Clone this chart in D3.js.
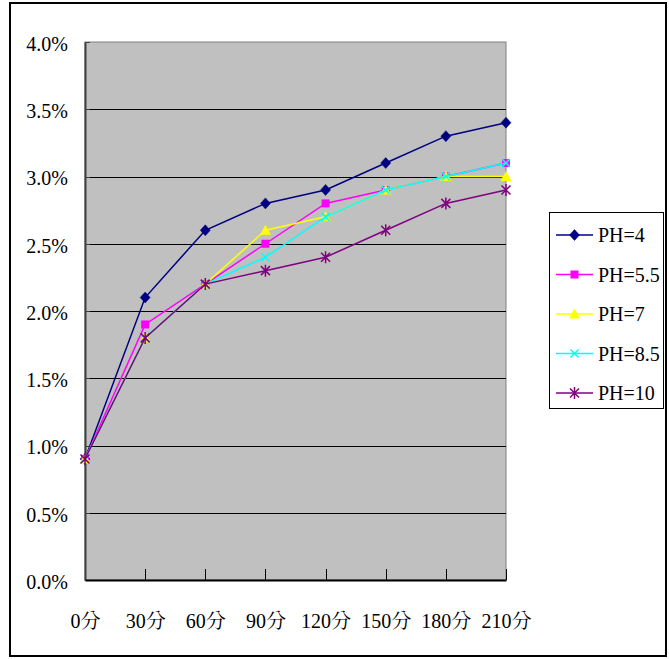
<!DOCTYPE html>
<html>
<head>
<meta charset="utf-8">
<script src="https://cdn.jsdelivr.net/npm/d3@7"></script>
<style>
  html, body { margin: 0; padding: 0; background: #fff; }
  svg { display: block; }
</style>
</head>
<body>
<svg id="chart" width="669" height="659"></svg>
<script>
// Time points (minutes) along the x axis
const categories = ["0分", "30分", "60分", "90分", "120分", "150分", "180分", "210分"];

// Values (%) for each pH level
const ph4   = [0.9, 2.1, 2.6, 2.8, 2.9, 3.1, 3.3, 3.4];
const ph55  = [0.9, 1.9, 2.2, 2.5, 2.8, 2.9, 3.0, 3.1];
const ph7   = [0.9, 1.8, 2.2, 2.6, 2.7, 2.9, 3.0, 3.0];
const ph85  = [0.9, 1.8, 2.2, 2.4, 2.7, 2.9, 3.0, 3.1];
const ph10  = [0.9, 1.8, 2.2, 2.3, 2.4, 2.6, 2.8, 2.9];

const seriesNames = ["PH=4", "PH=5.5", "PH=7", "PH=8.5", "PH=10"];
const yTicks = [0, 0.5, 1.0, 1.5, 2.0, 2.5, 3.0, 3.5, 4.0];

const FONT = "'Liberation Serif', 'Times New Roman', Times, 'Noto Serif CJK TC', 'Noto Sans CJK TC', serif";

const series = [
  { name: seriesNames[0], values: ph4,  color: "#000080", marker: "diamond" },
  { name: seriesNames[1], values: ph55, color: "#FF00FF", marker: "square" },
  { name: seriesNames[2], values: ph7,  color: "#FFFF00", marker: "triangle" },
  { name: seriesNames[3], values: ph85, color: "#00FFFF", marker: "cross" },
  { name: seriesNames[4], values: ph10, color: "#800080", marker: "star" }
];

const svg = d3.select("#chart");

// Outer frame
svg.append("rect")
  .attr("x", 10).attr("y", 3).attr("width", 656).attr("height", 653)
  .attr("fill", "#fff").attr("stroke", "#000").attr("stroke-width", 2);

const plot = { left: 85, right: 506, top: 42, bottom: 580 };

const x = d3.scalePoint().domain(categories).range([plot.left, plot.right]).padding(0);
const y = d3.scaleLinear().domain([0, 4]).range([plot.bottom, plot.top]);

// Plot background
svg.append("rect")
  .attr("x", plot.left).attr("y", plot.top)
  .attr("width", plot.right - plot.left).attr("height", plot.bottom - plot.top)
  .attr("fill", "#C0C0C0").attr("stroke", "#808080").attr("stroke-width", 1);

// Horizontal gridlines
svg.append("g")
  .selectAll("line")
  .data(yTicks.filter(d => d > 0 && d < 4))
  .join("line")
  .attr("x1", plot.left).attr("x2", plot.right)
  .attr("y1", d => Math.round(y(d)) + 0.5).attr("y2", d => Math.round(y(d)) + 0.5)
  .attr("stroke", "#000").attr("stroke-width", 1);

// Y axis
const yAxis = d3.axisLeft(y).tickValues(yTicks).tickFormat(d => d.toFixed(1) + "%").tickSize(0).tickPadding(17);
const gy = svg.append("g").attr("transform", `translate(${plot.left},0)`).call(yAxis)
  .attr("font-family", null).attr("font-size", null);
gy.select(".domain").attr("stroke", "#404040").attr("stroke-width", 2);
gy.selectAll("text").style("font-family", FONT).style("font-size", "20px").attr("fill", "#000")
  .attr("dy", "0.42em");

// Small inward tick marks on the y axis
svg.append("g").selectAll("line").data(yTicks).join("line")
  .attr("x1", plot.left).attr("x2", plot.left + 5)
  .attr("y1", d => Math.round(y(d)) + 0.5).attr("y2", d => Math.round(y(d)) + 0.5)
  .attr("stroke", "#404040").attr("stroke-width", 1);

// X axis
const xAxis = d3.axisBottom(x).tickSize(0).tickPadding(34);
const gx = svg.append("g").attr("transform", `translate(0,${plot.bottom})`).call(xAxis)
  .attr("font-family", null).attr("font-size", null);
gx.select(".domain").attr("stroke", "#000").attr("stroke-width", 2);
gx.selectAll("text").style("font-family", FONT).style("font-size", "20px").attr("fill", "#000");

// Inward tick marks on the x axis
svg.append("g").selectAll("line").data(categories.slice(1)).join("line")
  .attr("x1", d => Math.round(x(d)) + 0.5).attr("x2", d => Math.round(x(d)) + 0.5)
  .attr("y1", plot.bottom).attr("y2", plot.bottom - 11)
  .attr("stroke", "#000").attr("stroke-width", 1);

// Marker drawing
function drawMarker(g, type, color, cx, cy) {
  if (type === "diamond") {
    g.append("path").attr("d", `M${cx},${cy - 5.5}L${cx + 5},${cy}L${cx},${cy + 5.5}L${cx - 5},${cy}Z`)
      .attr("fill", color).attr("stroke", color).attr("stroke-width", 0.5);
  } else if (type === "square") {
    g.append("rect").attr("x", cx - 4).attr("y", cy - 4).attr("width", 8).attr("height", 8)
      .attr("fill", color);
  } else if (type === "triangle") {
    g.append("path").attr("d", `M${cx},${cy - 5.5}L${cx + 5.5},${cy + 4.5}L${cx - 5.5},${cy + 4.5}Z`)
      .attr("fill", color);
  } else if (type === "cross") {
    g.append("path").attr("d", `M${cx - 4},${cy - 4}L${cx + 4},${cy + 4}M${cx + 4},${cy - 4}L${cx - 4},${cy + 4}`)
      .attr("stroke", color).attr("stroke-width", 1.5).attr("fill", "none");
  } else if (type === "star") {
    g.append("path").attr("d", `M${cx - 4.5},${cy - 4.5}L${cx + 4.5},${cy + 4.5}M${cx + 4.5},${cy - 4.5}L${cx - 4.5},${cy + 4.5}M${cx},${cy - 6}L${cx},${cy + 6}`)
      .attr("stroke", color).attr("stroke-width", 1.5).attr("fill", "none");
  }
}

const line = d3.line().x((d, i) => x(categories[i])).y(d => y(d));

series.forEach(s => {
  const g = svg.append("g");
  g.append("path").attr("d", line(s.values))
    .attr("fill", "none").attr("stroke", s.color).attr("stroke-width", 1.5);
  s.values.forEach((v, i) => drawMarker(g, s.marker, s.color, x(categories[i]), y(v)));
});

// Legend
const legend = svg.append("g");
legend.append("rect")
  .attr("x", 549.5).attr("y", 212.5).attr("width", 114).attr("height", 196)
  .attr("fill", "#fff").attr("stroke", "#000").attr("stroke-width", 1);

const legendRows = d3.scaleLinear().domain([0, 4]).range([235, 393]);
series.forEach((s, i) => {
  const ly = legendRows(i);
  legend.append("line").attr("x1", 556).attr("x2", 593).attr("y1", ly).attr("y2", ly)
    .attr("stroke", s.color).attr("stroke-width", 1.5);
  drawMarker(legend, s.marker, s.color, 574.5, ly);
  legend.append("text").attr("x", 598).attr("y", ly).attr("dy", "0.35em")
    .style("font-family", FONT).style("font-size", "20px").attr("fill", "#000").text(s.name);
});
</script>
</body>
</html>
